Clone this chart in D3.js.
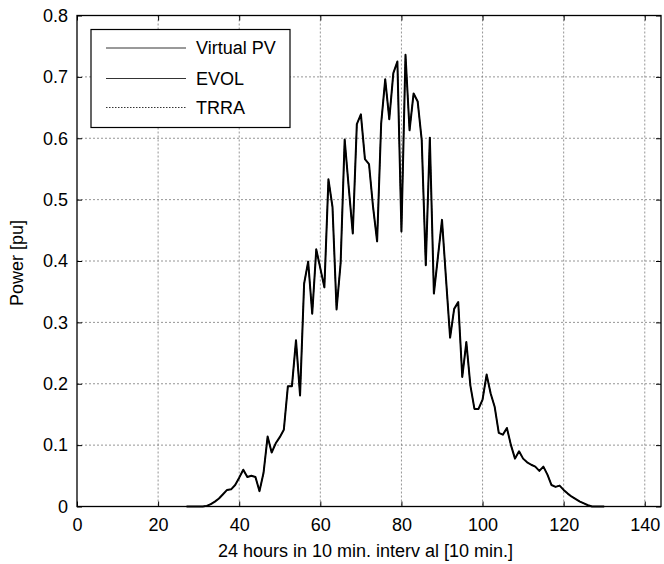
<!DOCTYPE html>
<html>
<head>
<meta charset="utf-8">
<script src="https://cdn.jsdelivr.net/npm/d3@7/dist/d3.min.js"></script>
<style>
  html, body { margin: 0; padding: 0; background: #fff; }
  svg { display: block; font-family: Arial, "Liberation Sans", Helvetica, sans-serif; }
</style>
</head>
<body>
<svg id="chart" width="664" height="564"></svg>
<script>
// Daily PV power profile, one sample per 10-minute interval
const xTicks = [0, 20, 40, 60, 80, 100, 120, 140];
const yTicks = [0, 0.1, 0.2, 0.3, 0.4, 0.5, 0.6, 0.7, 0.8];
const seriesNames = ["Virtual PV", "EVOL", "TRRA"];

// Virtual PV, intervals 27..130
const pvStart = 27;
const pvValues = [
  0, 0, 0, 0, 0, 0.001, 0.004, 0.008, 0.013, 0.02,
  0.027, 0.028, 0.035, 0.047, 0.06, 0.048, 0.05, 0.048, 0.025, 0.055,
  0.114, 0.088, 0.103, 0.113, 0.125, 0.196, 0.196, 0.271, 0.181, 0.363,
  0.399, 0.314, 0.419, 0.388, 0.357, 0.533, 0.488, 0.321, 0.396, 0.598,
  0.52, 0.445, 0.623, 0.639, 0.566, 0.558, 0.488, 0.432, 0.624, 0.696,
  0.631, 0.706, 0.725, 0.448, 0.736, 0.613, 0.673, 0.66, 0.597, 0.393,
  0.601, 0.347, 0.407, 0.467, 0.37, 0.275, 0.322, 0.333, 0.211, 0.268,
  0.197, 0.159, 0.159, 0.174, 0.215, 0.184, 0.162, 0.12, 0.117, 0.128,
  0.1, 0.078, 0.09, 0.078, 0.072, 0.068, 0.065, 0.058, 0.065, 0.052,
  0.035, 0.032, 0.034, 0.027, 0.021, 0.016, 0.012, 0.008, 0.005, 0.002,
  0, 0, 0, 0
];

// EVOL estimate, intervals 27..130
const evolStart = 27;
const evolValues = [
  0, 0, 0, 0, 0, 0.001, 0.004, 0.008, 0.013, 0.02,
  0.027, 0.028, 0.035, 0.047, 0.06, 0.048, 0.05, 0.048, 0.025, 0.055,
  0.114, 0.088, 0.103, 0.113, 0.125, 0.196, 0.196, 0.271, 0.181, 0.363,
  0.399, 0.314, 0.419, 0.388, 0.357, 0.533, 0.488, 0.321, 0.396, 0.598,
  0.52, 0.445, 0.623, 0.639, 0.566, 0.558, 0.488, 0.432, 0.624, 0.696,
  0.631, 0.706, 0.725, 0.448, 0.736, 0.613, 0.673, 0.66, 0.597, 0.393,
  0.601, 0.347, 0.407, 0.467, 0.37, 0.275, 0.322, 0.333, 0.211, 0.268,
  0.197, 0.159, 0.159, 0.174, 0.215, 0.184, 0.162, 0.12, 0.117, 0.128,
  0.1, 0.078, 0.09, 0.078, 0.072, 0.068, 0.065, 0.058, 0.065, 0.052,
  0.035, 0.032, 0.034, 0.027, 0.021, 0.016, 0.012, 0.008, 0.005, 0.002,
  0, 0, 0, 0
];

// TRRA estimate, intervals 1..143
const trraStart = 1;
const trraValues = [
  0, 0, 0, 0, 0, 0, 0, 0, 0, 0,
  0, 0, 0, 0, 0, 0, 0, 0, 0, 0,
  0, 0, 0, 0, 0, 0, 0, 0, 0, 0,
  0, 0.001, 0.004, 0.008, 0.013, 0.02,
  0.027, 0.028, 0.035, 0.047, 0.06, 0.048, 0.05, 0.048, 0.025, 0.055,
  0.114, 0.088, 0.103, 0.113, 0.125, 0.196, 0.196, 0.271, 0.181, 0.363,
  0.399, 0.314, 0.419, 0.388, 0.357, 0.533, 0.488, 0.321, 0.396, 0.598,
  0.52, 0.445, 0.623, 0.639, 0.566, 0.558, 0.488, 0.432, 0.624, 0.696,
  0.631, 0.706, 0.725, 0.448, 0.736, 0.613, 0.673, 0.66, 0.597, 0.393,
  0.601, 0.347, 0.407, 0.467, 0.37, 0.275, 0.322, 0.333, 0.211, 0.268,
  0.197, 0.159, 0.159, 0.174, 0.215, 0.184, 0.162, 0.12, 0.117, 0.128,
  0.1, 0.078, 0.09, 0.078, 0.072, 0.068, 0.065, 0.058, 0.065, 0.052,
  0.035, 0.032, 0.034, 0.027, 0.021, 0.016, 0.012, 0.008, 0.005, 0.002,
  0, 0, 0, 0, 0, 0, 0, 0, 0, 0,
  0, 0, 0, 0, 0, 0, 0
];

const toPoints = (start, values) => values.map((v, i) => ({ x: start + i, y: v }));
const series = [
  { name: seriesNames[0], pts: toPoints(pvStart, pvValues), width: 2, dash: null },
  { name: seriesNames[1], pts: toPoints(evolStart, evolValues), width: 0.8, dash: null },
  { name: seriesNames[2], pts: toPoints(trraStart, trraValues), width: 0.8, dash: "1.5,1.5" }
];

const svg = d3.select("#chart");
const plotL = 77, plotR = 661, plotT = 15.5, plotB = 506.5;
const fs = 18;

const x = d3.scaleLinear().domain([0, 144]).range([plotL, plotR]);
const y = d3.scaleLinear().domain([0, 0.8]).range([plotB, plotT]);

// grid
const grid = svg.append("g");
grid.selectAll("line.gx").data(xTicks.filter(t => t > 0)).join("line")
  .attr("x1", d => x(d)).attr("x2", d => x(d))
  .attr("y1", plotT).attr("y2", plotB)
  .attr("stroke", "#7a7a7a").attr("stroke-width", 0.8).attr("stroke-dasharray", "2,2");
grid.selectAll("line.gy").data(yTicks.filter(t => t > 0 && t < 0.8)).join("line")
  .attr("x1", plotL).attr("x2", plotR)
  .attr("y1", d => y(d)).attr("y2", d => y(d))
  .attr("stroke", "#7a7a7a").attr("stroke-width", 0.8).attr("stroke-dasharray", "2,2");

// axes (ticks inside, labels outside)
const fmt = d => d === 0 ? "0" : d3.format(".1f")(d);
const xAxis = svg.append("g").attr("transform", `translate(0,${plotB})`)
  .call(d3.axisBottom(x).tickValues(xTicks).tickSizeInner(-5).tickSizeOuter(0).tickPadding(12));
const yAxis = svg.append("g").attr("transform", `translate(${plotL},0)`)
  .call(d3.axisLeft(y).tickValues(yTicks).tickFormat(fmt).tickSizeInner(-5).tickSizeOuter(0).tickPadding(9));
const xAxisTop = svg.append("g").attr("transform", `translate(0,${plotT})`)
  .call(d3.axisTop(x).tickValues(xTicks).tickSizeInner(-5).tickSizeOuter(0).tickFormat(""));
const yAxisRight = svg.append("g").attr("transform", `translate(${plotR},0)`)
  .call(d3.axisRight(y).tickValues(yTicks).tickSizeInner(-5).tickSizeOuter(0).tickFormat(""));
[xAxis, yAxis, xAxisTop, yAxisRight].forEach(g => {
  g.select(".domain").remove();
  g.selectAll(".tick line").attr("stroke", "#000").attr("stroke-width", 1);
  g.selectAll("text").attr("font-size", fs).attr("fill", "#000")
    .attr("font-family", "Arial, 'Liberation Sans', sans-serif");
});
xAxis.selectAll("text").attr("dy", "0.71em");

// box
svg.append("rect").attr("x", plotL).attr("y", plotT)
  .attr("width", plotR - plotL).attr("height", plotB - plotT)
  .attr("fill", "none").attr("stroke", "#000").attr("stroke-width", 1.3);

// lines
const line = d3.line().x(d => x(d.x)).y(d => y(d.y));
svg.append("g").selectAll("path").data(series.slice().reverse()).join("path")
  .attr("d", d => line(d.pts))
  .attr("fill", "none").attr("stroke", "#000")
  .attr("stroke-width", d => d.width)
  .attr("stroke-linejoin", "round")
  .attr("stroke-dasharray", d => d.dash);

// axis titles
svg.append("text").attr("x", (213 + 518) / 2).attr("y", 557)
  .attr("text-anchor", "middle").attr("font-size", fs)
  .text("24 hours in 10 min. interv al [10 min.]");
svg.append("text").attr("transform", "translate(23,263) rotate(-90)")
  .attr("text-anchor", "middle").attr("font-size", fs)
  .text("Power [pu]");

// legend
const lg = svg.append("g");
lg.append("rect").attr("x", 91).attr("y", 29.5).attr("width", 199).attr("height", 98)
  .attr("fill", "#fff").attr("stroke", "#000").attr("stroke-width", 1.2);
const rowY = [48, 78.5, 107.5];
series.forEach((s, i) => {
  lg.append("line").attr("x1", 106).attr("x2", 186)
    .attr("y1", rowY[i]).attr("y2", rowY[i])
    .attr("stroke", "#000").attr("stroke-width", 0.8)
    .attr("stroke-dasharray", s.dash);
  lg.append("text").attr("x", 196).attr("y", rowY[i]).attr("dy", "0.36em")
    .attr("font-size", fs).text(s.name);
});
</script>
</body>
</html>
